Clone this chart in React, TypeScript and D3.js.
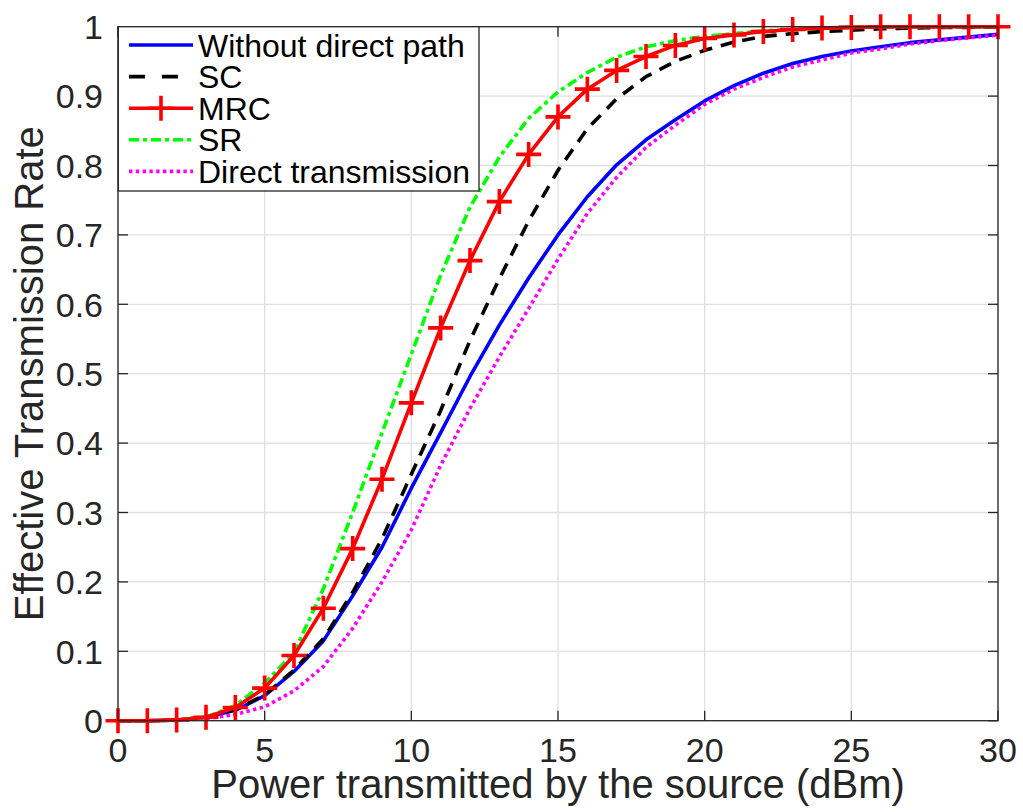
import React from "react";
import * as d3 from "d3";

const powerDbm = [0,1,2,3,4,5,6,7,8,9,10,11,12,13,14,15,16,17,18,19,20,21,22,23,24,25,26,27,28,29,30];

const withoutDirect = [0,0,0.001,0.005,0.015,0.036,0.071,0.115,0.180,0.250,0.335,0.415,0.496,0.570,0.638,0.700,0.755,0.801,0.837,0.866,0.893,0.915,0.933,0.947,0.957,0.965,0.971,0.977,0.981,0.985,0.989];
const scValues = [0,0,0.001,0.005,0.016,0.037,0.073,0.118,0.185,0.262,0.355,0.447,0.548,0.637,0.720,0.793,0.853,0.896,0.928,0.950,0.966,0.978,0.986,0.990,0.993,0.995,0.997,0.998,0.999,0.999,1.0];
const mrcValues = [0,0,0.001,0.005,0.019,0.047,0.094,0.162,0.248,0.348,0.458,0.566,0.663,0.748,0.816,0.870,0.910,0.937,0.957,0.973,0.983,0.988,0.993,0.996,0.998,0.999,1.0,1.0,1.0,1.0,1.0];
const srValues = [0,0,0.001,0.005,0.022,0.054,0.098,0.190,0.300,0.415,0.528,0.642,0.740,0.812,0.868,0.906,0.934,0.956,0.971,0.980,0.986,0.990,0.994,0.996,0.998,0.999,1.0,1.0,1.0,1.0,1.0];
const directValues = [0,0,0.0005,0.003,0.009,0.020,0.043,0.078,0.133,0.200,0.275,0.368,0.450,0.524,0.594,0.665,0.731,0.783,0.826,0.858,0.888,0.910,0.927,0.942,0.952,0.962,0.968,0.975,0.980,0.984,0.988];

const xTicks = [0,5,10,15,20,25,30];
const yTicks = [0,0.1,0.2,0.3,0.4,0.5,0.6,0.7,0.8,0.9,1];

const legendLabels = ["Without direct path","SC","MRC","SR","Direct transmission"];

const series = [
  { name: legendLabels[0], values: withoutDirect, color: "#0000ff", dash: null, marker: false },
  { name: legendLabels[1], values: scValues, color: "#000000", dash: "13,9", marker: false },
  { name: legendLabels[2], values: mrcValues, color: "#ff0000", dash: null, marker: true },
  { name: legendLabels[3], values: srValues, color: "#00ff00", dash: "10,4,4,4", marker: false },
  { name: legendLabels[4], values: directValues, color: "#ff00ff", dash: "3.4,3.4", marker: false },
];

const W = 1023, H = 812;
const left = 118, right = 998, top = 26.7, bottom = 720.7;
const axisColor = "#262626";
const font = "'Liberation Sans', Arial, Helvetica, sans-serif";

export default function App() {
  const x = d3.scaleLinear().domain([0, 30]).range([left, right]);
  const y = d3.scaleLinear().domain([0, 1]).range([bottom, top]);
  const line = d3.line<number>().x((_, i) => x(powerDbm[i])).y((d) => y(d));
  const drawOrder = [0, 1, 4, 3, 2];
  const mk = 12.5;
  const lw = 3.6;
  const legX0 = 118.3, legY0 = 26.7, legX1 = 479, legY1 = 191;
  const rowY = (i: number) => 45 + i * 31.6;

  return (
    <svg width={W} height={H} style={{ position: "absolute", left: 0, top: 0, background: "#fff" }} fontFamily={font}>
      <rect x={0} y={0} width={W} height={H} fill="#fff" />
      {xTicks.map((t) => (
        <line key={"gx" + t} x1={x(t)} x2={x(t)} y1={top} y2={bottom} stroke="#dfdfdf" strokeWidth={1.3} />
      ))}
      {yTicks.map((t) => (
        <line key={"gy" + t} x1={left} x2={right} y1={y(t)} y2={y(t)} stroke="#dfdfdf" strokeWidth={1.3} />
      ))}
      {xTicks.map((t) => (
        <g key={"tx" + t}>
          <line x1={x(t)} x2={x(t)} y1={bottom} y2={bottom - 10} stroke={axisColor} strokeWidth={1.3} />
          <line x1={x(t)} x2={x(t)} y1={top} y2={top + 10} stroke={axisColor} strokeWidth={1.3} />
          <text x={x(t)} y={762} fontSize={34} fill={axisColor} textAnchor="middle">{t}</text>
        </g>
      ))}
      {yTicks.map((t) => (
        <g key={"ty" + t}>
          <line x1={left} x2={left + 10} y1={y(t)} y2={y(t)} stroke={axisColor} strokeWidth={1.3} />
          <line x1={right} x2={right - 10} y1={y(t)} y2={y(t)} stroke={axisColor} strokeWidth={1.3} />
          <text x={103} y={y(t)} dy="0.36em" fontSize={34} fill={axisColor} textAnchor="end">{d3.format("")(+t.toFixed(1))}</text>
        </g>
      ))}
      {drawOrder.map((si) => {
        const s = series[si];
        return (
          <g key={s.name}>
            <path d={line(s.values) || ""} fill="none" stroke={s.color} strokeWidth={lw} strokeDasharray={s.dash || undefined} strokeLinejoin="round" />
            {s.marker && s.values.map((v, i) => (
              <path key={i} d={`M${x(powerDbm[i]) - mk},${y(v)}H${x(powerDbm[i]) + mk}M${x(powerDbm[i])},${y(v) - mk}V${y(v) + mk}`} stroke={s.color} strokeWidth={3.6} fill="none" />
            ))}
          </g>
        );
      })}
      <rect x={left} y={top} width={right - left} height={bottom - top} fill="none" stroke={axisColor} strokeWidth={1.3} />
      <rect x={legX0} y={legY0} width={legX1 - legX0} height={legY1 - legY0} fill="#fff" stroke={axisColor} strokeWidth={1.3} />
      {series.map((s, i) => (
        <g key={"leg" + i}>
          <line x1={129} x2={193} y1={rowY(i)} y2={rowY(i)} stroke={s.color} strokeWidth={lw} strokeDasharray={s.dash ? (i === 1 ? "16,17" : s.dash) : undefined} />
          {s.marker && (
            <path d={`M${161 - mk},${rowY(i)}H${161 + mk}M161,${rowY(i) - mk}V${rowY(i) + mk}`} stroke={s.color} strokeWidth={3.6} />
          )}
          <text x={198} y={rowY(i)} dy="0.36em" fontSize={32} fill="#000">{s.name}</text>
        </g>
      ))}
      <text x={(left + right) / 2} y={798} fontSize={40} fill={axisColor} textAnchor="middle">Power transmitted by the source (dBm)</text>
      <text transform={`translate(43,${(top + bottom) / 2}) rotate(-90)`} fontSize={40} fill={axisColor} textAnchor="middle">Effective Transmission Rate</text>
    </svg>
  );
}
